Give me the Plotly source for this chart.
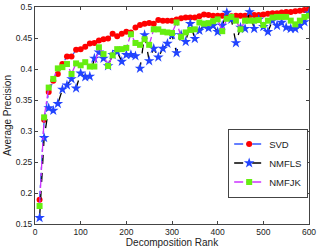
import plotly.graph_objects as go

rank = list(range(10, 601, 10))

svd = [0.189, 0.318, 0.363, 0.381, 0.392, 0.408, 0.420, 0.420, 0.431, 0.432,
       0.436, 0.441, 0.442, 0.446, 0.448, 0.449, 0.457, 0.453, 0.457, 0.460,
       0.459, 0.467, 0.471, 0.473, 0.474, 0.473, 0.479, 0.478, 0.478, 0.478,
       0.480, 0.482, 0.483, 0.483, 0.483, 0.485, 0.488, 0.487, 0.486, 0.486,
       0.486, 0.486, 0.485, 0.486, 0.486, 0.486, 0.487, 0.487, 0.487, 0.488,
       0.489, 0.490, 0.490, 0.491, 0.492, 0.492, 0.493, 0.494, 0.495, 0.497]

nmfls = [0.160, 0.289, 0.337, 0.333, 0.344, 0.367, 0.374, 0.384, 0.369, 0.393,
         0.387, 0.388, 0.417, 0.427, 0.417, 0.405, 0.423, 0.428, 0.412, 0.423,
         0.423, 0.421, 0.401, 0.455, 0.413, 0.433, 0.419, 0.433, 0.441, 0.455,
         0.426, 0.455, 0.444, 0.473, 0.449, 0.462, 0.470, 0.466, 0.470, 0.460,
         0.470, 0.491, 0.480, 0.442, 0.467, 0.465, 0.492, 0.465, 0.480, 0.468,
         0.460, 0.478, 0.470, 0.475, 0.467, 0.465, 0.465, 0.470, 0.476, 0.490]

nmfjk = [0.179, 0.322, 0.370, 0.384, 0.401, 0.403, 0.408, 0.392, 0.409, 0.406,
         0.411, 0.404, 0.404, 0.435, 0.424, 0.405, 0.422, 0.432, 0.432, 0.434,
         0.456, 0.442, 0.439, 0.448, 0.439, 0.464, 0.464, 0.460, 0.459, 0.458,
         0.475, 0.452, 0.459, 0.463, 0.464, 0.475, 0.473, 0.474, 0.477, 0.480,
         0.461, 0.481, 0.484, 0.478, 0.464, 0.478, 0.478, 0.478, 0.479, 0.471,
         0.478, 0.483, 0.484, 0.484, 0.484, 0.478, 0.472, 0.478, 0.484, 0.486]

x_ticks = [0, 100, 200, 300, 400, 500, 600]
y_ticks = [0.15, 0.2, 0.25, 0.3, 0.35, 0.4, 0.45, 0.5]
y_tick_labels = ["0.15", "0.2", "0.25", "0.3", "0.35", "0.4", "0.45", "0.5"]

FONT = "Liberation Sans, Arial, sans-serif"

fig = go.Figure()
fig.add_trace(go.Scatter(
    x=rank, y=svd, name="SVD", mode="lines+markers",
    line=dict(color="#3355ff", width=1.3, dash="dashdot"),
    marker=dict(symbol="circle", color="#ff0000", size=6, line=dict(width=0)),
))
fig.add_trace(go.Scatter(
    x=rank, y=nmfls, name="NMFLS", mode="lines+markers",
    line=dict(color="#000000", width=1.3, dash="dash"),
    marker=dict(symbol="star", color="#2244ff", size=8, line=dict(width=0)),
))
fig.add_trace(go.Scatter(
    x=rank, y=nmfjk, name="NMFJK", mode="lines+markers",
    line=dict(color="#cc33ff", width=1.3, dash="dashdot"),
    marker=dict(symbol="square", color="#66ee11", size=6, line=dict(width=0)),
))

fig.update_layout(
    width=319, height=248,
    margin=dict(l=35, r=10, t=7, b=24, pad=0, autoexpand=False),
    paper_bgcolor="white", plot_bgcolor="white",
    font=dict(family=FONT, size=8.5, color="#222222"),
    showlegend=True,
    legend=dict(
        x=0.705, y=0.44, xanchor="left", yanchor="top",
        bgcolor="white", bordercolor="#444444", borderwidth=1,
        font=dict(family=FONT, size=9.5, color="#222222"),
        itemwidth=30, tracegroupgap=0,
    ),
)
fig.update_xaxes(
    range=[0, 600], tickvals=x_ticks, ticktext=[str(v) for v in x_ticks],
    showgrid=False, zeroline=False, showline=True, linecolor="#444444", linewidth=1,
    mirror="ticks", ticks="inside", ticklen=3, tickcolor="#444444",
    automargin=False,
    title=dict(text="Decomposition Rank", font=dict(family=FONT, size=10, color="#222222"), standoff=0),
)
fig.update_yaxes(
    range=[0.15, 0.5], tickvals=y_ticks, ticktext=y_tick_labels,
    showgrid=False, zeroline=False, showline=True, linecolor="#444444", linewidth=1,
    mirror="ticks", ticks="inside", ticklen=3, tickcolor="#444444",
    automargin=False,
    title=dict(text="Average Precision", font=dict(family=FONT, size=10, color="#222222"), standoff=2),
)

fig.write_html(
    "out.html",
    config={"displayModeBar": False},
    post_script="document.body.style.margin='0';document.body.style.padding='0';",
)
